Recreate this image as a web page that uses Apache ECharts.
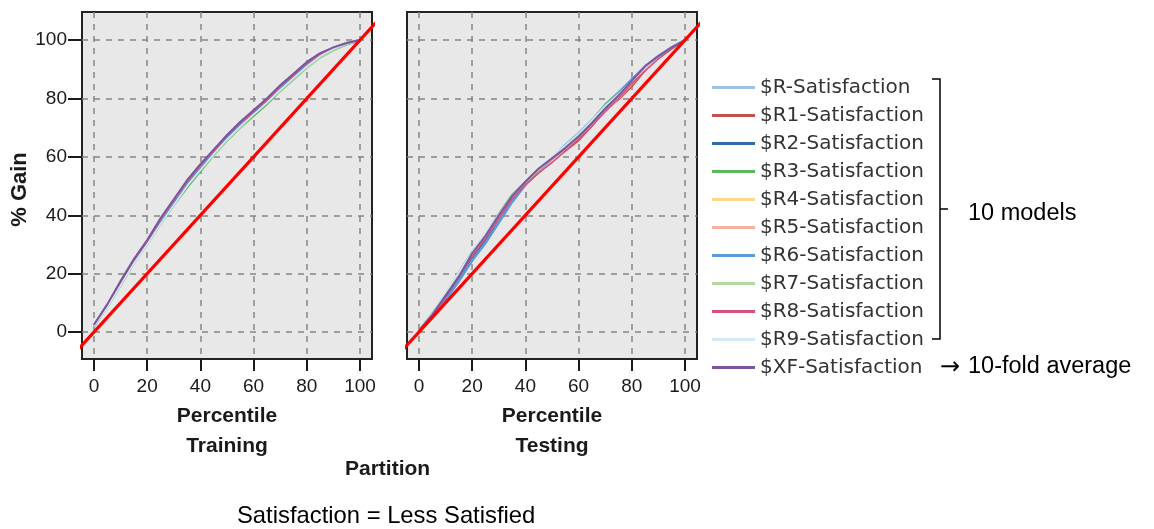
<!DOCTYPE html>
<html>
<head>
<meta charset="utf-8">
<script src="https://cdn.jsdelivr.net/npm/echarts@6/dist/echarts.min.js"></script>
<style>
  html, body { margin: 0; padding: 0; background: #fff; }
  #chart { width: 1154px; height: 529px; }
</style>
</head>
<body>
<div id="chart"></div>
<script>
// percentile positions (shared by every curve)
const percentiles = [0, 5, 10, 15, 20, 25, 30, 35, 40, 45, 50, 55, 60, 65, 70, 75, 80, 85, 90, 95, 100];
const tickValues = [0, 20, 40, 60, 80, 100];

const modelNames = ['$R-Satisfaction', '$R1-Satisfaction', '$R2-Satisfaction', '$R3-Satisfaction',
    '$R4-Satisfaction', '$R5-Satisfaction', '$R6-Satisfaction', '$R7-Satisfaction',
    '$R8-Satisfaction', '$R9-Satisfaction', '$XF-Satisfaction'];
const modelColors = ['#9cc3e4', '#c4504f', '#2f6ba5', '#5cb85c', '#ffd68a', '#f5b19f',
    '#5b9bd8', '#b3d89c', '#d84f7e', '#d3e8f8', '#7b55a0'];
const modelWidths = [1.2, 1.5, 2, 2, 2, 2, 2.5, 1.5, 1.5, 1.5, 2];

// % gain, Training partition
const trainR  = [2, 9, 16.5, 24, 30.5, 37.5, 44, 50.5, 56, 61.5, 66.5, 71, 75, 79, 83.5, 87.5, 91.5, 94.5, 97, 99, 100];
const trainR1 = [2.5, 9.5, 17, 24.5, 31, 38.5, 45, 51.5, 57, 62, 67, 71.5, 76, 80, 84, 88, 92, 95, 97.5, 99, 100];
const trainR2 = [2, 9, 17, 24.5, 31, 38, 44.5, 51, 56.5, 62, 67, 71.5, 75.5, 79.5, 84, 88, 92, 95, 97, 99, 100];
const trainR3 = [2, 8.5, 16, 23.5, 30, 37, 43.5, 49.5, 55, 60.5, 65.5, 70, 74, 78, 82.5, 86.5, 90.5, 94, 96.5, 98.5, 100];
const trainR4 = [2, 9, 16.5, 24, 30.5, 37.5, 44, 50.5, 56, 61, 66, 70.5, 75, 79, 83, 87.5, 91.5, 94.5, 97, 99, 100];
const trainR5 = [2.5, 9, 17, 24.5, 31, 38, 44.5, 51, 56.5, 61.5, 66.5, 71, 75.5, 79.5, 83.5, 88, 92, 95, 97, 99, 100];
const trainR6 = [2, 9, 16.5, 24, 30.5, 37.5, 44, 50.5, 56, 61.5, 66.5, 71, 75, 79, 83.5, 87.5, 91.5, 94.5, 97, 98.5, 100];
const trainR7 = [2, 8.5, 16, 23.5, 30, 37, 43.5, 50, 55.5, 60.5, 65.5, 70, 74.5, 78.5, 82.5, 86.5, 90.5, 94, 96.5, 98.5, 100];
const trainR8 = [2.5, 9.5, 17, 24.5, 31, 38.5, 45, 51.5, 57, 62, 67, 71.5, 75.5, 79.5, 84, 88, 92, 95, 97.5, 99, 100];
const trainR9 = [2, 8.5, 16, 23.5, 30, 37, 43.5, 50, 55.5, 61, 66, 70.5, 74.5, 78.5, 83, 87, 91, 94.5, 97, 99, 100];
const trainXF = [2.5, 9.5, 17.5, 25, 31.5, 39, 45.5, 52, 57.5, 62.5, 67.5, 72, 76, 80, 84.5, 88.5, 92.5, 95.5, 97.5, 99, 100];

// % gain, Testing partition
const testR  = [0.5, 6.5, 13, 19.5, 26, 32, 39, 45, 50, 55, 59, 63.5, 67.5, 72, 76, 80.5, 85.5, 90, 94, 97.5, 100];
const testR1 = [0.5, 5.5, 12, 18.5, 26, 32.5, 39.5, 46, 50.5, 54.5, 58.5, 62, 65.5, 70.5, 76, 79.5, 84, 89.5, 94, 97, 100];
const testR2 = [0.5, 5.5, 11.5, 18, 25, 31.5, 38, 45, 51, 55.5, 59, 63.5, 67.5, 72, 77, 81.5, 86, 90.5, 94.5, 97.5, 100];
const testR3 = [0.5, 6.5, 13, 20.5, 27.5, 33.5, 40.5, 47, 51.5, 55.5, 59.5, 63, 67.5, 72.5, 78, 82, 86.5, 90.5, 94, 97.5, 100];
const testR4 = [0.5, 6, 12.5, 19, 26.5, 33, 39.5, 46, 51, 55.5, 59, 62.5, 66.5, 71, 76, 80.5, 85.5, 90, 94, 97.5, 100];
const testR5 = [0.5, 6, 12.5, 19.5, 26.5, 32.5, 39, 45.5, 50.5, 55, 58.5, 62.5, 66.5, 71, 75.5, 80, 85, 90, 94, 97, 100];
const testR6 = [0.5, 5, 11, 17.5, 24.5, 30.5, 37.5, 44.5, 50.5, 55.5, 59.5, 64, 68, 72.5, 77.5, 82, 86.5, 91, 94.5, 97.5, 100];
const testR7 = [0.5, 6.5, 13.5, 20.5, 27, 33.5, 40, 46, 51, 55.5, 59.5, 63.5, 67.5, 72.5, 77.5, 81.5, 86, 90.5, 94.5, 97.5, 100];
const testR8 = [0.5, 6, 12, 19, 26, 32, 39, 45.5, 50.5, 54.5, 58, 62, 66, 70.5, 75.5, 80, 85, 89.5, 93.5, 97, 100];
const testR9 = [0.5, 6.5, 13.5, 20.5, 27.5, 34, 40.5, 46.5, 51.5, 56, 60, 64, 68, 72.5, 77.5, 81.5, 86, 90.5, 94.5, 97.5, 100];
const testXF = [0.5, 6, 12.5, 19, 27, 33, 40, 46.5, 51.5, 56, 59.5, 63, 67, 71.5, 76.5, 81, 86, 91, 94.5, 97.5, 100];

// diagonal baseline (random model)
const baseline = [[-10, -10], [110, 110]];

const trainSets = [trainR, trainR1, trainR2, trainR3, trainR4, trainR5, trainR6, trainR7, trainR8, trainR9, trainXF];
const testSets = [testR, testR1, testR2, testR3, testR4, testR5, testR6, testR7, testR8, testR9, testXF];

const font = 'Liberation Sans, Arial, sans-serif';
const ink = '#1a1a1a';

function pairs(ys) {
    return percentiles.map((x, i) => [x, ys[i]]);
}

function makeX(idx, title) {
    return {
        type: 'value', gridIndex: idx, min: -4.5, max: 104.5,
        axisLine: { show: false, onZero: false },
        axisTick: { show: true, length: 12, customValues: tickValues, lineStyle: { color: ink, width: 2 } },
        axisLabel: { customValues: tickValues, fontSize: 19, color: ink, fontFamily: font, margin: 18 },
        splitLine: { show: true, lineStyle: { color: '#858585', width: 1.5, type: [6, 6] } },
        name: 'Percentile\n' + title,
        nameLocation: 'middle', nameGap: 40,
        nameTextStyle: { fontWeight: 'bold', fontSize: 21, lineHeight: 30, color: ink, fontFamily: font }
    };
}

function makeY(idx, showLabels) {
    return {
        type: 'value', gridIndex: idx, min: -9.2, max: 109.6,
        axisLine: { show: false, onZero: false },
        axisTick: { show: showLabels, length: 14, customValues: tickValues, lineStyle: { color: ink, width: 2 } },
        axisLabel: { show: showLabels, customValues: tickValues, fontSize: 19, color: ink, fontFamily: font, margin: 15 },
        splitLine: { show: true, lineStyle: { color: '#858585', width: 1.5, type: [6, 6] } },
        name: showLabels ? '% Gain' : '',
        nameLocation: 'middle', nameGap: 51,
        nameTextStyle: { fontWeight: 'bold', fontSize: 22, color: ink, fontFamily: font, padding: [0, 8, 0, 0] }
    };
}

const series = [];
[trainSets, testSets].forEach((sets, g) => {
    sets.forEach((ys, i) => {
        series.push({
            name: modelNames[i], type: 'line', xAxisIndex: g, yAxisIndex: g,
            data: pairs(ys), showSymbol: false, symbol: 'none', silent: true,
            color: modelColors[i],
            lineStyle: { color: modelColors[i], width: modelWidths[i] }
        });
    });
    series.push({
        name: 'Baseline', type: 'line', xAxisIndex: g, yAxisIndex: g,
        data: baseline, symbol: 'none', silent: true, z: 5,
        lineStyle: { color: '#ff0000', width: 3.2 }
    });
});

const chart = echarts.init(document.getElementById('chart'));
chart.setOption({
    animation: false,
    backgroundColor: '#ffffff',
    grid: [
        { left: 82, top: 12, width: 290, height: 347, show: true, backgroundColor: '#e8e8e8', borderColor: '#222', borderWidth: 2 },
        { left: 407, top: 12, width: 290, height: 347, show: true, backgroundColor: '#e8e8e8', borderColor: '#222', borderWidth: 2 }
    ],
    xAxis: [makeX(0, 'Training'), makeX(1, 'Testing')],
    yAxis: [makeY(0, true), makeY(1, false)],
    legend: {
        data: modelNames,
        orient: 'vertical',
        left: 707, top: 70,
        icon: 'rect',
        itemWidth: 43, itemHeight: 3, itemGap: 3,
        textStyle: { fontFamily: 'DejaVu Sans, sans-serif', fontSize: 20, color: '#333', lineHeight: 25 },
        selectedMode: false
    },
    graphic: [
        { type: 'polyline', silent: true, shape: { points: [[932, 79], [940, 79], [940, 339], [932, 339]] },
          style: { stroke: '#000', lineWidth: 1.5, fill: null } },
        { type: 'line', silent: true, shape: { x1: 940, y1: 209, x2: 948, y2: 209 },
          style: { stroke: '#000', lineWidth: 1.5 } },
        { type: 'text', left: 968, top: 202,
          style: { text: '10 models', font: '23.5px ' + font, fill: '#000' } },
        { type: 'text', left: 940, top: 356,
          style: { text: '\u2192', font: '24px DejaVu Sans, sans-serif', fill: '#000' } },
        { type: 'text', left: 968, top: 355,
          style: { text: '10-fold average', font: '23.5px ' + font, fill: '#000' } },
        { type: 'text', left: 345, top: 459,
          style: { text: 'Partition', font: 'bold 21px ' + font, fill: ink } },
        { type: 'text', left: 237, top: 504,
          style: { text: 'Satisfaction = Less Satisfied', font: '23.8px ' + font, fill: '#000' } }
    ],
    series: series
});
</script>
</body>
</html>
